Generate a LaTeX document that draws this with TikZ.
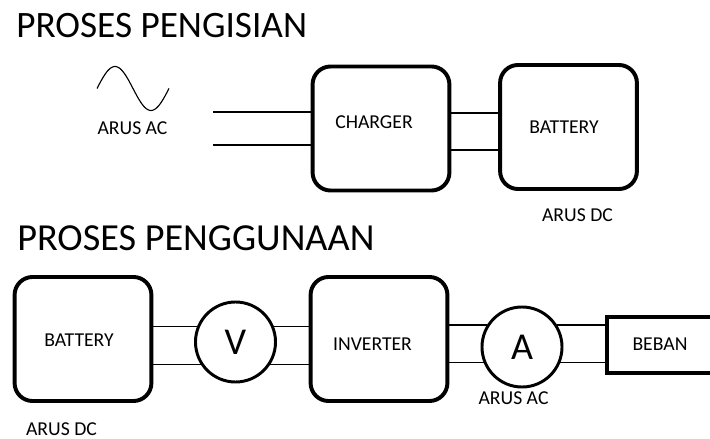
\documentclass[tikz,border=0pt]{standalone}
\usepackage{fontspec}
\setmainfont{Carlito}
\usetikzlibrary{calc}
\begin{document}
\begin{tikzpicture}[x=0.025cm,y=-0.025cm,
    blok/.style={draw, line width=2.8pt, rounded corners=0.45cm, minimum width=3.42cm, minimum height=3.1cm, inner sep=0pt},
    meter/.style={draw, circle, line width=2.1pt, minimum size=2cm, inner sep=0pt, fill=white, font=\fontsize{27}{30}\selectfont},
    beban/.style={draw, line width=2.8pt, minimum width=4cm, minimum height=1.4cm, inner sep=0pt},
    kabel/.style={line width=1.1pt},
    lbl/.style={inner sep=0pt, anchor=base, font=\fontsize{14}{16}\selectfont},
    judul/.style={inner sep=0pt, anchor=base west, font=\fontsize{26.5}{30}\selectfont}]
    \useasboundingbox (0,0) rectangle (710,439);

    \node[judul] (judul1) at (16,38) {PROSES PENGISIAN};
    \node[judul, font=\fontsize{27.2}{30}\selectfont] (judul2) at (17,250) {PROSES PENGGUNAAN};

    \draw[line width=0.8pt, domain=0:360, samples=60, smooth] plot ({97+\x/5}, {88.5-22*sin(\x)});
    \node[lbl] (arusac1) at (132.5,135) {ARUS AC};

    \node[blok] (charger) at (381,128.5) {};
    \node[blok] (battery) at (568.5,127) {};
    \node[lbl] (lcharger) at (374,129) {CHARGER};
    \node[lbl] (lbattery) at (564,134) {BATTERY};
    \node[lbl] (arusdc1) at (577.5,222) {ARUS DC};

    \coordinate (ac1) at (213,112);
    \coordinate (ac2) at (213,145);
    \draw[kabel] (ac1) -- (ac1 -| charger.west);
    \draw[kabel] (ac2) -- (ac2 -| charger.west);
    \coordinate (cb1) at ($(charger.east)+(0,-15.5)$);
    \coordinate (cb2) at ($(charger.east)+(0,21.5)$);
    \draw[kabel] (cb1) -- (cb1 -| battery.west);
    \draw[kabel] (cb2) -- (cb2 -| battery.west);

    \node[blok] (bbattery) at (83,339) {};
    \node[blok] (inverter) at (379,339) {};
    \node[meter] (volt) at (235.5,342) {V};
    \node[meter] (amp) at (522,347) {A};
    \node[beban] (load) at (687,345) {};
    \node[lbl] (lbbattery) at (79,346) {BATTERY};
    \node[lbl] (linverter) at (372.5,350) {INVERTER};
    \node[lbl] (lbeban) at (660,350) {BEBAN};
    \node[lbl] (arusdc2) at (61.5,435.5) {ARUS DC};
    \node[lbl] (arusac2) at (513.5,404) {ARUS AC};

    \draw[kabel] (volt.158) -- (volt.158 -| bbattery.east);
    \draw[kabel] (volt.213) -- (volt.213 -| bbattery.east);
    \draw[kabel] (volt.22) -- (volt.22 -| inverter.west);
    \draw[kabel] (volt.327) -- (volt.327 -| inverter.west);
    \draw[kabel] (amp.148) -- (amp.148 -| inverter.east);
    \draw[kabel] (amp.202) -- (amp.202 -| inverter.east);
    \draw[kabel] (amp.32) -- (amp.32 -| load.west);
    \draw[kabel] (amp.338) -- (amp.338 -| load.west);
\end{tikzpicture}
\end{document}
